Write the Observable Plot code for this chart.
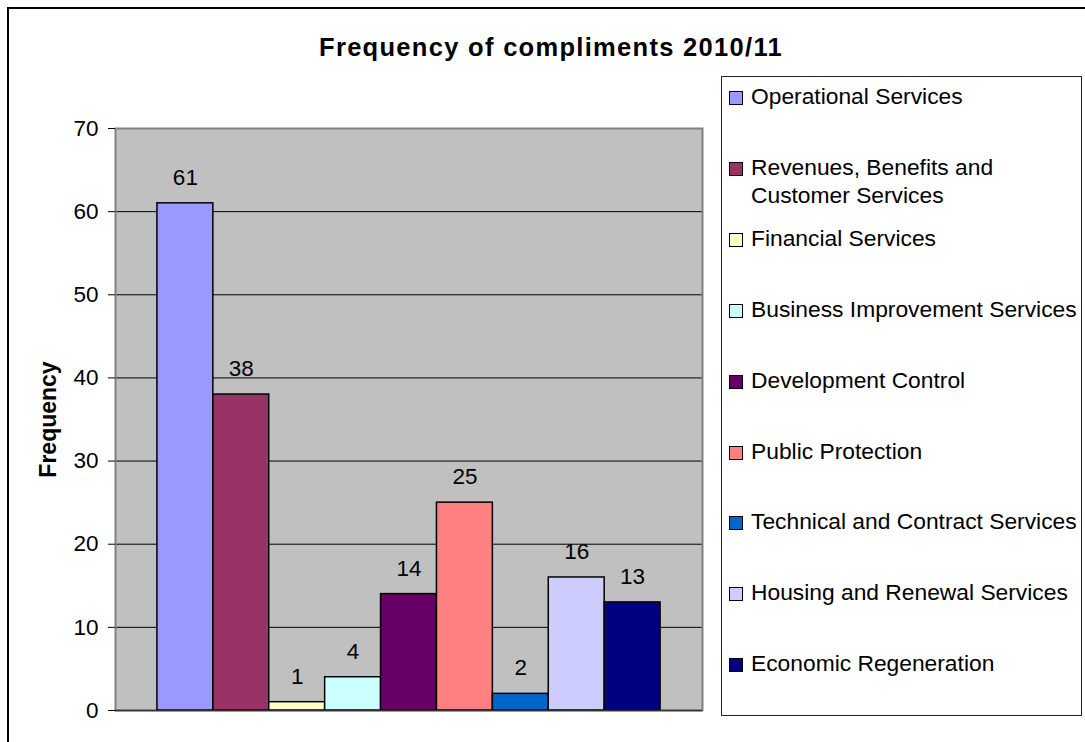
<!DOCTYPE html>
<html>
<head>
<meta charset="utf-8">
<script src="https://cdn.jsdelivr.net/npm/d3@7"></script>
<script src="https://cdn.jsdelivr.net/npm/@observablehq/plot@0.6"></script>
<style>
  html, body { margin: 0; padding: 0; background: #fff; overflow: hidden; }
  #wrap { position: relative; width: 1085px; height: 742px; font-family: "Liberation Sans", Arial, sans-serif; }
  #outer { position: absolute; left: 7px; top: 7px; width: 2000px; height: 2000px; border-left: 2px solid #000; border-top: 2px solid #000; }
  #chart { position: absolute; left: 0; top: 0; }
  #title { position: absolute; left: 0; width: 1102px; top: 34px; text-align: center; font-weight: bold; font-size: 25.5px; line-height: 26px; letter-spacing: 1.3px; color: #000; white-space: nowrap; }
  #legend { position: absolute; left: 721px; top: 76px; width: 361px; height: 640px; border: 1px solid #222; box-sizing: border-box; background: #fff; }
  .entry { position: absolute; left: 729px; display: flex; align-items: flex-start; }
  .sw { width: 14px; height: 14px; box-sizing: border-box; border: 1.5px solid #000; margin-top: 9px; margin-right: 8px; flex: none; }
  .lab { font-size: 22.8px; line-height: 28px; width: 335px; color: #000; }
</style>
</head>
<body>
<div id="wrap">
  <div id="outer"></div>
  <div id="chart"></div>
  <div id="title"></div>
  <div id="legend"></div>
</div>
<script>
const titleText = "Frequency of compliments 2010/11";
const yLabel = "Frequency";
const categories = [
  "Operational Services",
  "Revenues, Benefits and Customer Services",
  "Financial Services",
  "Business Improvement Services",
  "Development Control",
  "Public Protection",
  "Technical and Contract Services",
  "Housing and Renewal Services",
  "Economic Regeneration"
];
const values = [61, 38, 1, 4, 14, 25, 2, 16, 13];
const colors = ["#9999FF", "#993366", "#FFFFCC", "#CCFFFF", "#660066", "#FF8080", "#0066CC", "#CCCCFF", "#000080"];
const yTicks = [0, 10, 20, 30, 40, 50, 60, 70];

const data = categories.map((c, i) => ({category: c, value: values[i], color: colors[i]}));
const font = '"Liberation Sans", Arial, sans-serif';

const chart = Plot.plot({
  width: 1085,
  height: 742,
  marginLeft: 115,
  marginRight: 383,
  marginTop: 128,
  marginBottom: 32,
  style: {fontFamily: font, fontSize: "22px", color: "#000", background: "transparent"},
  x: {type: "band", domain: categories, paddingInner: 0, paddingOuter: 0.75, round: false, axis: null},
  y: {domain: [0, 70], axis: null},
  marks: [
    Plot.frame({fill: "#C0C0C0", stroke: null}),
    Plot.ruleY(yTicks.filter(t => t > 0 && t < 70), {stroke: "#000", strokeWidth: 1}),
    Plot.frame({stroke: "#808080", strokeWidth: 2}),
    Plot.barY(data, {x: "category", y: "value", fill: "color", stroke: "#000", strokeWidth: 1.5}),
    Plot.ruleX([0], {frameAnchor: "left", y1: 0, y2: 70, stroke: "#000", strokeWidth: 1.5}),
    Plot.ruleY([0], {stroke: "#333", strokeWidth: 1.5}),
    Plot.axisY({ticks: yTicks, tickSize: 7, tickPadding: 10, fontSize: 22.5, label: null, stroke: "#000"}),
    Plot.text(data, {x: "category", y: "value", text: d => String(d.value), dy: -18.5, lineAnchor: "bottom", fontSize: 22.5, fill: "#000"}),
    Plot.text([yLabel], {frameAnchor: "left", dx: -60, rotate: -90, textAnchor: "middle", lineAnchor: "bottom", fontSize: 23, fontWeight: "bold", fill: "#000"})
  ]
});
document.getElementById("chart").appendChild(chart);
document.getElementById("title").textContent = titleText;

const wrap = document.getElementById("wrap");
categories.forEach((c, i) => {
  const center = 96 + i * 70.9;
  const e = document.createElement("div");
  e.className = "entry";
  e.style.top = (center - 14) + "px";
  const sw = document.createElement("div");
  sw.className = "sw";
  sw.style.background = colors[i];
  const lab = document.createElement("div");
  lab.className = "lab";
  lab.textContent = c;
  e.appendChild(sw);
  e.appendChild(lab);
  wrap.appendChild(e);
});
</script>
</body>
</html>
